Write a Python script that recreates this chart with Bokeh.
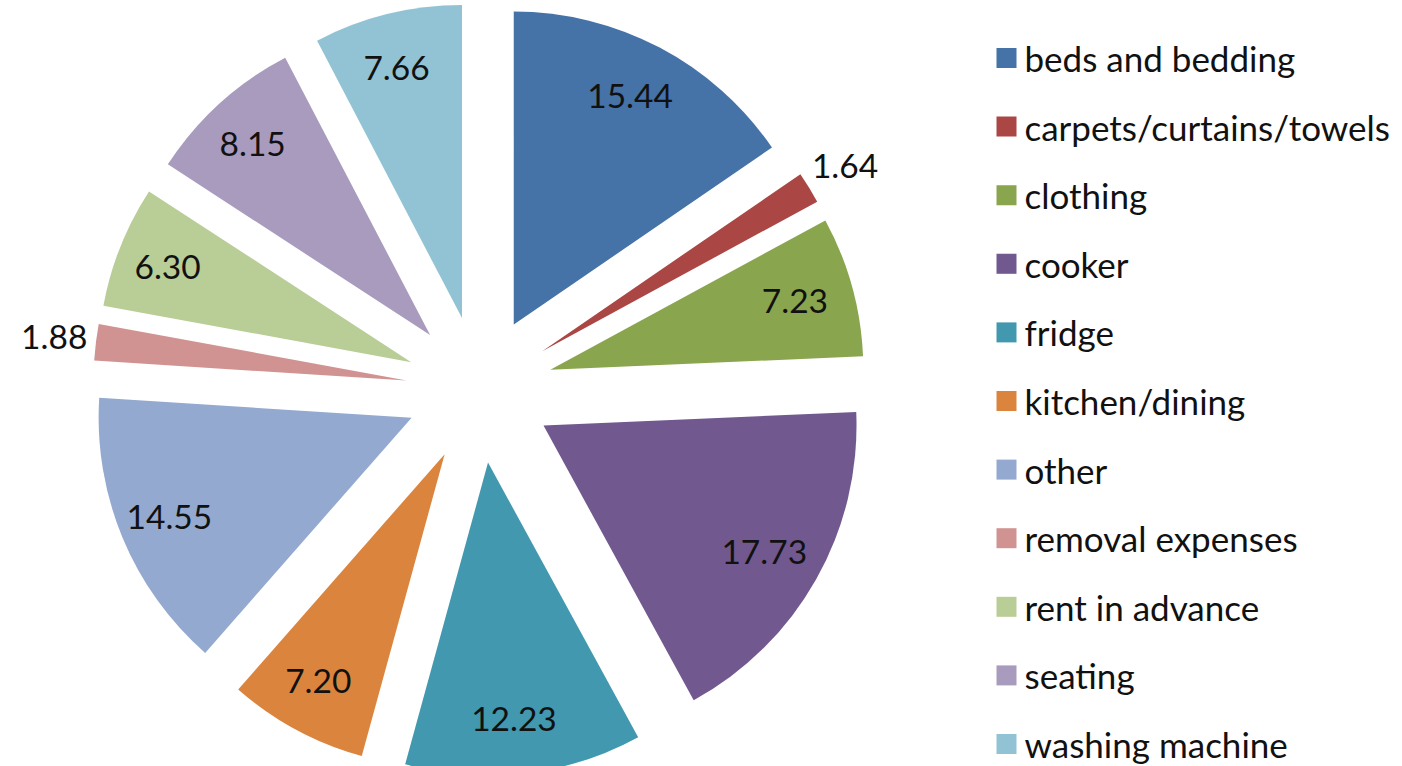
import math
from bokeh.plotting import figure
from bokeh.models import Range1d, ColumnDataSource
from bokeh.core.properties import value
from bokeh.embed import file_html
from bokeh.resources import INLINE

# ---------------- data ----------------
categories = ["beds and bedding", "carpets/curtains/towels", "clothing", "cooker",
              "fridge", "kitchen/dining", "other", "removal expenses",
              "rent in advance", "seating", "washing machine"]
values = [15.44, 1.64, 7.23, 17.73, 12.23, 7.20, 14.55, 1.88, 6.30, 8.15, 7.66]
colors = ["#4572A7", "#AA4643", "#89A54E", "#71588F", "#4198AF", "#DB843D",
          "#93A9CF", "#D19392", "#B9CD96", "#A99BBD", "#92C3D4"]

# ---------------- layout / style ----------------
W, H = 1402, 766
PAGE_H = 766
CX, CY = 479, PAGE_H - 389      # pie centre (data coords, y up)
R = 313                          # radius
EXPLODE = 73.5                   # explosion distance
LABEL_IN = 258                   # inside label distance from slice tip
LABEL_OUT = R + 42               # outside label distance from slice tip
LABEL_DX = -4
FONT = "Lato"
TXT = "#111111"

p = figure(width=W, height=H, x_range=Range1d(0, W), y_range=Range1d(PAGE_H - H, PAGE_H),
           output_backend="svg", toolbar_location=None, min_border=0,
           x_axis_location=None, y_axis_location=None)
p.grid.visible = False
p.outline_line_color = None
p.background_fill_color = "white"
p.border_fill_color = "white"

total = sum(values)
xs, ys, starts, ends = [], [], [], []
lx, ly, ltxt = [], [], []
cum = 0.0
for v in values:
    t1 = cum / total * 360.0
    cum += v
    t2 = cum / total * 360.0
    tm = math.radians((t1 + t2) / 2)
    sx, sy = math.sin(tm), math.cos(tm)
    tx, ty = CX + EXPLODE * sx, CY + EXPLODE * sy
    xs.append(tx); ys.append(ty)
    starts.append(math.radians(90 - t1)); ends.append(math.radians(90 - t2))
    ltxt.append(f"{v:.2f}")
    dist = LABEL_OUT if v < 3 else LABEL_IN
    lx.append(tx + dist * sx + (0 if v < 3 else LABEL_DX)); ly.append(ty + dist * sy)

src = ColumnDataSource(dict(x=xs, y=ys, start=starts, end=ends, color=colors, cat=categories))
p.wedge(x="x", y="y", radius=R, start_angle="start", end_angle="end", direction="clock",
        fill_color="color", line_color=None, source=src)

lsrc = ColumnDataSource(dict(x=lx, y=ly, text=ltxt))
p.text(x="x", y="y", text="text", text_align="center", text_baseline="middle",
       text_font=value(FONT), text_font_size="33.5px", text_color=TXT, source=lsrc)

# ---------------- legend ----------------
LEG_X_BOX = 1006
LEG_X_TXT = 1024
LEG_Y0 = 57.5
LEG_STEP = 68.6
leg_y = [PAGE_H - (LEG_Y0 + i * LEG_STEP) for i in range(len(categories))]
legsrc = ColumnDataSource(dict(xb=[LEG_X_BOX] * len(categories), xt=[LEG_X_TXT] * len(categories),
                               y=leg_y, color=colors, cat=categories))
p.scatter(x="xb", y="y", marker="square", size=20, fill_color="color", line_color=None, source=legsrc)
p.text(x="xt", y="y", text="cat", text_align="left", text_baseline="middle",
       text_font=value(FONT), text_font_size="35px", text_color=TXT, source=legsrc)

open("out.html", "w").write(file_html(p, INLINE))
